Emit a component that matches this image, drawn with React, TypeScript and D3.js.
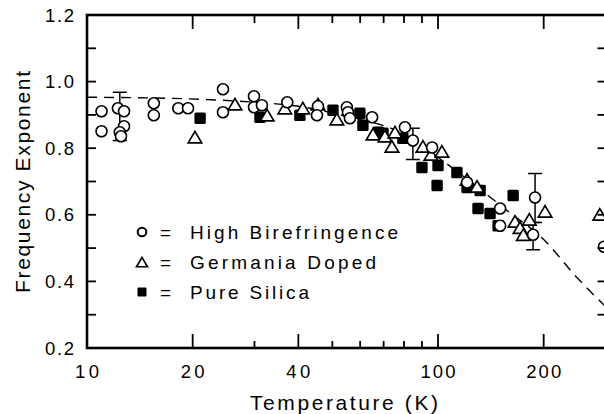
import React from 'react';
import * as d3 from 'd3';

// ---------- data ----------
const highBirefringence: [number, number][] = [
  [11.0, 0.911], [11.0, 0.851],
  [12.25, 0.92], [12.75, 0.911], [12.75, 0.866], [12.4, 0.848], [12.5, 0.836],
  [15.5, 0.935], [15.5, 0.899],
  [18.2, 0.92], [19.4, 0.92],
  [24.4, 0.977], [24.4, 0.908],
  [29.9, 0.956], [29.9, 0.923], [31.5, 0.929],
  [37.2, 0.938],
  [45.5, 0.926], [45.2, 0.899],
  [55.0, 0.923], [55.4, 0.908], [56.1, 0.89],
  [64.9, 0.893],
  [80.5, 0.863], [84.8, 0.823],
  [96.2, 0.802],
  [121, 0.697],
  [150.3, 0.619], [150.3, 0.567],
  [189, 0.652], [186.6, 0.54],
  [297, 0.504],
];
// [T, low, high]
const highBirefErrors: [number, number, number][] = [
  [12.4, 0.823, 0.968],
  [84.8, 0.766, 0.86],
  [189, 0.577, 0.724],
  [186.6, 0.495, 0.577],
];
const germaniaDoped: [number, number][] = [
  [20.3, 0.83], [26.4, 0.929], [32.6, 0.896], [36.6, 0.917], [41.2, 0.917],
  [45.5, 0.929], [51.5, 0.884], [65.3, 0.839], [70.6, 0.833], [75.4, 0.845],
  [73.9, 0.802], [90.6, 0.802], [95.5, 0.778], [102.6, 0.787], [121, 0.703],
  [129.2, 0.682], [165.7, 0.577], [171.3, 0.558], [175, 0.537], [182, 0.583],
  [201.8, 0.607], [289, 0.598],
];
const pureSilica: [number, number][] = [
  [21.0, 0.89], [31.1, 0.893], [40.4, 0.899], [50.2, 0.914], [59.9, 0.905],
  [61.1, 0.869], [67.5, 0.848], [69.7, 0.845], [79.4, 0.83], [90.0, 0.742],
  [100, 0.748], [99.4, 0.688], [113.2, 0.727], [121, 0.682], [131.8, 0.673],
  [130, 0.619], [140.7, 0.604], [148.3, 0.567], [163.7, 0.658],
];
const fitCurve: [number, number][] = [
  [10, 0.953], [15, 0.951], [21, 0.947], [29, 0.939], [40, 0.926], [56, 0.893],
  [78, 0.848], [101, 0.769], [132, 0.676], [160, 0.607], [199, 0.528],
  [249, 0.411], [301, 0.323],
];
const yLabelTicks = [0.2, 0.4, 0.6, 0.8, 1.0, 1.2];
const yMinorTicks = [0.3, 0.5, 0.7, 0.9, 1.1];
const xLabelTicks = [10, 20, 40, 100, 200];
const xMajorTicks = [20, 40, 100, 200];
const xMinorTicks = [30, 50, 60, 70, 80, 90];
const legendItems = ['High Birefringence', 'Germania Doped', 'Pure Silica'];

// ---------- layout ----------
const W = 604, H = 414;
const X0 = 87, X1 = 605.5, Y0 = 348, Y1 = 15;
const FONT = '"Liberation Sans", Arial, Helvetica, sans-serif';

const x = d3.scaleLog().domain([10, 300]).range([X0, X1]);
const y = d3.scaleLinear().domain([0.2, 1.2]).range([Y0, Y1]);

const line = d3.line<[number, number]>()
  .x(d => x(d[0]))
  .y(d => y(d[1]))
  .curve(d3.curveMonotoneX);

function Tri({ cx, cy, s = 13.5 }: { cx: number; cy: number; s?: number }) {
  const h = s * 0.85;
  return (
    <path
      d={`M${cx},${cy - h * 0.6}L${cx + s / 2},${cy + h * 0.4}L${cx - s / 2},${cy + h * 0.4}Z`}
      fill="#fff" stroke="#000" strokeWidth={1.7} strokeLinejoin="miter"
    />
  );
}

export default function App() {
  return (
    <svg width={W} height={H} style={{ position: 'absolute', left: 0, top: 0, background: '#fff' }}
      fontFamily={FONT}>
      <rect x={0} y={0} width={W} height={H} fill="#fff" />
      {/* fit curve */}
      <path d={line(fitCurve) || ''} fill="none" stroke="#000" strokeWidth={1.4} strokeDasharray="10,7" />

      {/* error bars */}
      {highBirefErrors.map(([t, lo, hi], i) => (
        <g key={'e' + i} stroke="#000" strokeWidth={1.5}>
          <line x1={x(t)} x2={x(t)} y1={y(lo)} y2={y(hi)} />
          <line x1={x(t) - 7} x2={x(t) + 7} y1={y(lo)} y2={y(lo)} />
          <line x1={x(t) - 7} x2={x(t) + 7} y1={y(hi)} y2={y(hi)} />
        </g>
      ))}

      {/* pure silica squares */}
      {pureSilica.map(([t, v], i) => (
        <rect key={'s' + i} x={x(t) - 5.7} y={y(v) - 5.7} width={11.4} height={11.4} rx={1.5} fill="#000" />
      ))}
      {/* germania doped triangles */}
      {germaniaDoped.map(([t, v], i) => (
        <Tri key={'t' + i} cx={x(t)} cy={y(v)} />
      ))}
      {/* high birefringence circles */}
      {highBirefringence.map(([t, v], i) => (
        <circle key={'c' + i} cx={x(t)} cy={y(v)} r={5.5} fill="#fff" stroke="#000" strokeWidth={1.6} />
      ))}

      {/* frame */}
      <rect x={X0} y={Y1} width={X1 - X0} height={Y0 - Y1} fill="none" stroke="#000" strokeWidth={2.6} />
      {/* y ticks */}
      {[...yLabelTicks, ...yMinorTicks].map((v, i) => (
        <g key={'yt' + i} stroke="#000" strokeWidth={1.8}>
          <line x1={X0} x2={X0 + 9} y1={y(v)} y2={y(v)} />
          <line x1={X1} x2={X1 - 8} y1={y(v)} y2={y(v)} />
        </g>
      ))}
      {/* x ticks */}
      {xMajorTicks.map((t, i) => (
        <g key={'xM' + i} stroke="#000" strokeWidth={1.8}>
          <line x1={x(t)} x2={x(t)} y1={Y0} y2={Y0 - 14} />
          <line x1={x(t)} x2={x(t)} y1={Y1} y2={Y1 + 14} />
        </g>
      ))}
      {xMinorTicks.map((t, i) => (
        <g key={'xm' + i} stroke="#000" strokeWidth={1.8}>
          <line x1={x(t)} x2={x(t)} y1={Y0} y2={Y0 - 7} />
          <line x1={x(t)} x2={x(t)} y1={Y1} y2={Y1 + 8} />
        </g>
      ))}

      {/* y tick labels */}
      {yLabelTicks.map((v, i) => (
        <text key={'yl' + i} x={74} y={y(v) + 6.5} textAnchor="end" fontSize={18.5}
          textLength={29} lengthAdjust="spacing">{v.toFixed(1)}</text>
      ))}
      {/* x tick labels */}
      {xLabelTicks.map((t, i) => {
        const s = String(t);
        return (
          <text key={'xl' + i} x={x(t)} y={377.5} textAnchor="middle" fontSize={18.5}
            textLength={s.length === 2 ? 24 : 35} lengthAdjust="spacing">{s}</text>
        );
      })}

      {/* axis titles */}
      <text x={344} y={410} textAnchor="middle" fontSize={21} textLength={188} lengthAdjust="spacing">
        Temperature (K)
      </text>
      <text transform={`translate(30,182) rotate(-90)`} textAnchor="middle" fontSize={21}
        textLength={222} lengthAdjust="spacing">Frequency Exponent</text>

      {/* legend */}
      <circle cx={142} cy={232} r={4.3} fill="#fff" stroke="#000" strokeWidth={2} />
      <Tri cx={142} cy={263} s={11} />
      <rect x={137.5} y={287.5} width={9} height={9} rx={1} fill="#000" />
      {legendItems.map((s, i) => {
        const cy = 232 + i * 30;
        const widths = [208, 186, 119];
        return (
          <g key={'lg' + i}>
            <text x={160} y={cy + 6.5} fontSize={19}>=</text>
            <text x={190} y={cy + 6.5} fontSize={19} textLength={widths[i]} lengthAdjust="spacing">{s}</text>
          </g>
        );
      })}
    </svg>
  );
}
